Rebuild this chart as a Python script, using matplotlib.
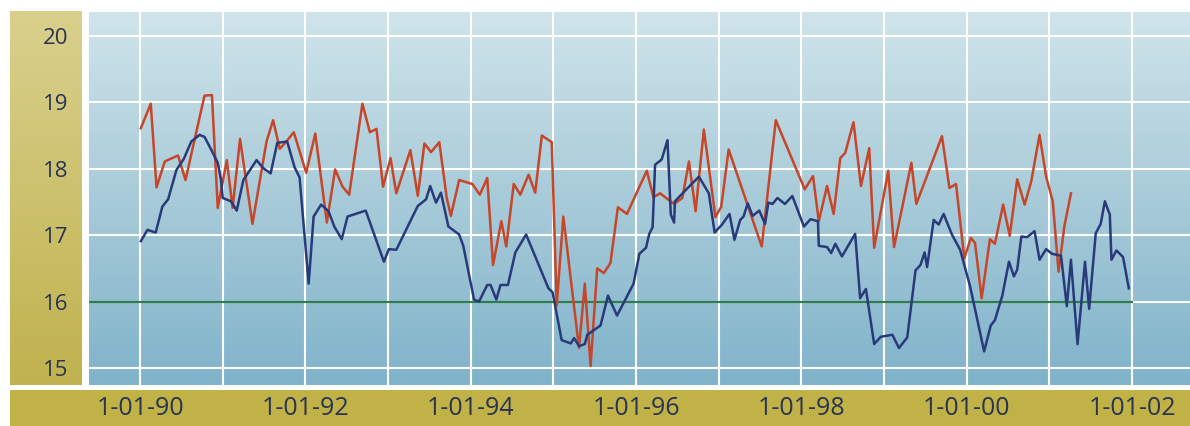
import matplotlib
matplotlib.use("Agg")
import matplotlib.pyplot as plt
import numpy as np
from matplotlib.patches import Rectangle
from matplotlib.colors import LinearSegmentedColormap

# red series (decimal year, value)
red_years = [1990.01, 1990.13, 1990.20, 1990.30, 1990.46, 1990.55, 1990.78, 1990.87, 1990.94,
             1991.05, 1991.12, 1991.21, 1991.36, 1991.53, 1991.61, 1991.69, 1991.77, 1991.86,
             1992.01, 1992.12, 1992.26, 1992.36, 1992.45, 1992.53, 1992.69, 1992.78, 1992.86, 1992.94,
             1993.03, 1993.10, 1993.27, 1993.36, 1993.44, 1993.52, 1993.62, 1993.71, 1993.76, 1993.86,
             1994.02, 1994.11, 1994.20, 1994.27, 1994.37, 1994.43, 1994.52, 1994.60, 1994.70, 1994.78,
             1994.86, 1994.98,
             1995.04, 1995.12, 1995.31, 1995.38, 1995.45, 1995.53, 1995.61, 1995.69, 1995.78, 1995.89,
             1996.13, 1996.21, 1996.29, 1996.46, 1996.56, 1996.64, 1996.72, 1996.82, 1996.96,
             1997.03, 1997.12, 1997.52, 1997.69,
             1998.04, 1998.14, 1998.21, 1998.31, 1998.39, 1998.47, 1998.53, 1998.63, 1998.72, 1998.82,
             1998.88,
             1999.05, 1999.12, 1999.33, 1999.39, 1999.70, 1999.79, 1999.87, 1999.97,
             2000.05, 2000.10, 2000.18, 2000.28, 2000.34, 2000.44, 2000.52, 2000.61, 2000.70, 2000.78,
             2000.88, 2000.96,
             2001.04, 2001.11, 2001.18, 2001.26]
red_vals = [18.61, 18.98, 17.72, 18.11, 18.20, 17.83, 19.10, 19.11, 17.41,
            18.13, 17.41, 18.45, 17.17, 18.41, 18.73, 18.30, 18.41, 18.55,
            17.94, 18.53, 17.19, 17.99, 17.73, 17.61, 18.98, 18.55, 18.60, 17.73,
            18.16, 17.63, 18.28, 17.59, 18.38, 18.25, 18.40, 17.56, 17.29, 17.83,
            17.77, 17.61, 17.86, 16.55, 17.21, 16.83, 17.77, 17.61, 17.91, 17.64,
            18.50, 18.40,
            15.94, 17.28, 15.30, 16.27, 15.03, 16.50, 16.43, 16.58, 17.42, 17.32,
            17.97, 17.57, 17.63, 17.47, 17.56, 18.11, 17.36, 18.59, 17.27,
            17.43, 18.29, 16.83, 18.73,
            17.69, 17.89, 17.21, 17.74, 17.32, 18.16, 18.24, 18.70, 17.74, 18.31,
            16.81,
            17.97, 16.82, 18.09, 17.47, 18.49, 17.71, 17.77, 16.65,
            16.96, 16.88, 16.05, 16.94, 16.87, 17.46, 16.99, 17.84, 17.46, 17.81,
            18.51, 17.88,
            17.51, 16.45, 17.13, 17.63]

# blue series (decimal year, value)
blue_years = [1990.01, 1990.09, 1990.19, 1990.27, 1990.34, 1990.44, 1990.53, 1990.62, 1990.72,
              1990.78, 1990.86, 1990.94, 1990.98,
              1991.00, 1991.10, 1991.17, 1991.25, 1991.41, 1991.49, 1991.58, 1991.66, 1991.78,
              1991.87, 1991.93,
              1992.04, 1992.10, 1992.19, 1992.28, 1992.35, 1992.44, 1992.51, 1992.73, 1992.95,
              1993.01, 1993.10, 1993.36, 1993.46, 1993.51, 1993.58, 1993.64, 1993.73, 1993.86,
              1993.91,
              1994.04, 1994.10, 1994.20, 1994.24, 1994.31, 1994.36, 1994.45, 1994.54, 1994.67,
              1994.94, 1994.99,
              1995.10, 1995.21, 1995.25, 1995.31, 1995.38, 1995.41, 1995.57, 1995.66, 1995.77,
              1995.87, 1995.97,
              1996.04, 1996.12, 1996.16, 1996.20, 1996.23, 1996.31, 1996.38, 1996.42, 1996.46,
              1996.47, 1996.64, 1996.76, 1996.88, 1996.95,
              1997.04, 1997.13, 1997.19, 1997.26, 1997.30, 1997.35, 1997.41, 1997.49, 1997.56,
              1997.60, 1997.65, 1997.71, 1997.80, 1997.89,
              1998.03, 1998.11, 1998.20, 1998.21, 1998.31, 1998.36, 1998.41, 1998.49, 1998.65,
              1998.71, 1998.78, 1998.88, 1998.96,
              1999.10, 1999.18, 1999.28, 1999.38, 1999.44, 1999.49, 1999.52, 1999.60, 1999.66,
              1999.72, 1999.82, 1999.92,
              2000.04, 2000.21, 2000.29, 2000.34, 2000.43, 2000.51, 2000.57, 2000.61, 2000.66,
              2000.73, 2000.82, 2000.88, 2000.96,
              2001.03, 2001.14, 2001.21, 2001.26, 2001.34, 2001.43, 2001.48, 2001.56, 2001.62,
              2001.67, 2001.73, 2001.75, 2001.81, 2001.89, 2001.96]
blue_vals = [16.91, 17.08, 17.04, 17.43, 17.54, 17.98, 18.15, 18.41, 18.51,
             18.48, 18.29, 18.09, 17.83,
             17.56, 17.51, 17.37, 17.83, 18.13, 18.01, 17.93, 18.39, 18.41,
             18.02, 17.87,
             16.27, 17.28, 17.46, 17.36, 17.13, 16.94, 17.28, 17.37, 16.60,
             16.79, 16.78, 17.44, 17.54, 17.74, 17.49, 17.64, 17.13, 17.01,
             16.84,
             16.03, 16.00, 16.25, 16.25, 16.03, 16.25, 16.25, 16.74, 17.01,
             16.20, 16.14,
             15.42, 15.37, 15.45, 15.33, 15.36, 15.50, 15.64, 16.09, 15.79,
             16.03, 16.27,
             16.72, 16.81, 17.02, 17.12, 18.06, 18.14, 18.43, 17.31, 17.19,
             17.51, 17.73, 17.88, 17.63, 17.04,
             17.16, 17.32, 16.93, 17.23, 17.28, 17.48, 17.29, 17.37, 17.17,
             17.49, 17.47, 17.56, 17.47, 17.59,
             17.13, 17.24, 17.21, 16.84, 16.82, 16.73, 16.87, 16.68, 17.02,
             16.05, 16.19, 15.36, 15.47,
             15.50, 15.30, 15.46, 16.47, 16.55, 16.74, 16.52, 17.23, 17.16,
             17.32, 17.01, 16.78,
             16.23, 15.25, 15.64, 15.72, 16.09, 16.60, 16.38, 16.48, 16.98,
             16.97, 17.06, 16.63, 16.79,
             16.72, 16.69, 15.93, 16.63, 15.36, 16.60, 15.89, 17.03, 17.17,
             17.51, 17.31, 16.63, 16.77, 16.67, 16.20]

# green reference level
target_level = 16
target_end = 2002.0

x_ticks = [1990, 1992, 1994, 1996, 1998, 2000, 2002]
x_labels = ['1-01-90', '1-01-92', '1-01-94', '1-01-96', '1-01-98', '1-01-00', '1-01-02']
y_ticks = [15, 16, 17, 18, 19, 20]

x_min, x_max = 1989.383, 2002.70
y_min, y_max = 14.744, 20.36

text_color = '#2a3452'
plt.rcParams['font.family'] = ['Open Sans', 'DejaVu Sans']

fig = plt.figure(figsize=(11.9, 4.26), dpi=100)
fig.patch.set_facecolor('white')

W, H = 1190.0, 426.0

# olive strips (left, behind y labels, and bottom, behind x labels)
olive = LinearSegmentedColormap.from_list('olive', ['#d9d08d', '#c0b24f'])
side = fig.add_axes([10 / W, 1 - 385 / H, 72 / W, (385 - 11) / H])
side.imshow(np.linspace(0, 1, 256).reshape(-1, 1), aspect='auto', cmap=olive,
            extent=[0, 1, 0, 1])
side.axis('off')
fig.patches.append(Rectangle((10 / W, 0), 1 - 10 / W, (426 - 390) / H,
                             transform=fig.transFigure, facecolor='#c0b247',
                             edgecolor='none', zorder=-1))

ax = fig.add_axes([89 / W, 1 - 385 / H, (W - 89) / W, (385 - 12) / H])

# blue gradient background
sky = LinearSegmentedColormap.from_list('sky', ['#d0e4eb', '#a8cbd9', '#80b3cb'])
ax.imshow(np.linspace(0, 1, 256).reshape(-1, 1), aspect='auto', cmap=sky,
          extent=[0, 1, 0, 1], transform=ax.transAxes, zorder=0)

ax.set_xlim(x_min, x_max)
ax.set_ylim(y_min, y_max)

ax.set_xticks(x_ticks)
ax.set_xticklabels(x_labels)
ax.set_xticks(range(1990, 2003), minor=True)
ax.set_yticks(y_ticks)
ax.grid(True, which='both', color='white', linewidth=1.5, zorder=1)
ax.set_axisbelow(True)
for s in ax.spines.values():
    s.set_visible(False)

ax.tick_params(axis='y', length=0, pad=15, labelsize=16, labelcolor=text_color)
ax.tick_params(axis='x', which='major', length=0, pad=8, labelsize=18, labelcolor=text_color)
ax.tick_params(axis='x', which='minor', length=0)

# data lines
ax.plot([x_min, target_end], [target_level, target_level], color='#2f7d4c', linewidth=1.6, zorder=2)
ax.plot(red_years, red_vals, color='#c6462a', linewidth=1.8, zorder=3)
ax.plot(blue_years, blue_vals, color='#283a7a', linewidth=1.8, zorder=4)

fig.savefig('out.png', dpi=100, facecolor='white')
